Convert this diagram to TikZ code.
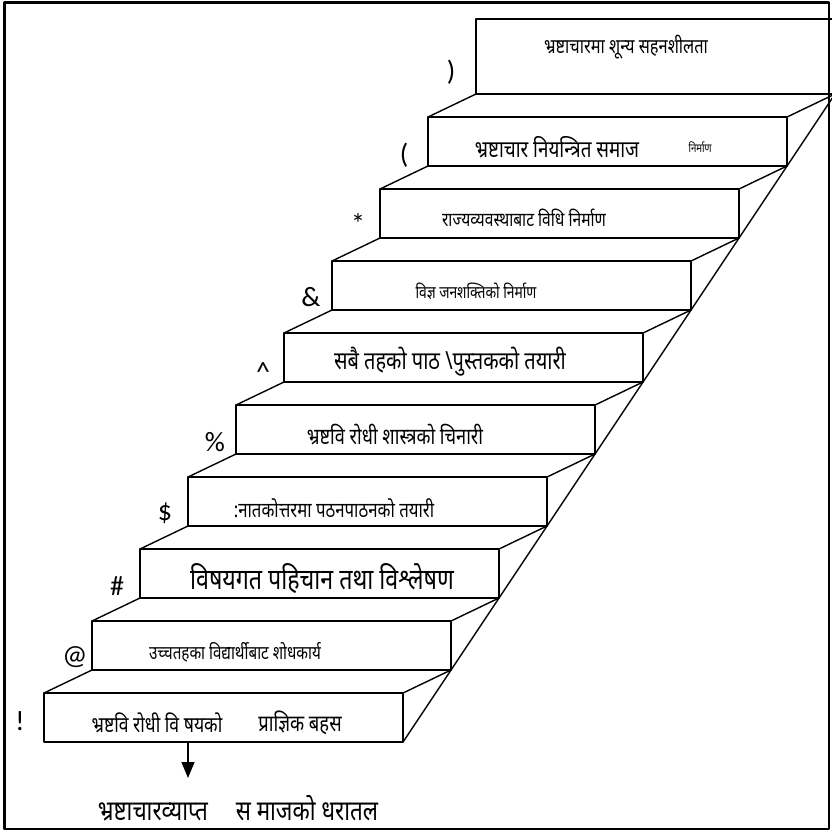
\documentclass[tikz,border=0pt]{standalone}
\usepackage{fontspec}
\newfontfamily\dev[Script=Devanagari,FakeStretch=0.8]{Noto Sans}
\newfontfamily\numfont{Carlito}
\usetikzlibrary{arrows.meta}

\newcommand\devsize[1]{\dev\fontsize{#1}{#1}\selectfont}

\tikzset{
  stepbox/.style={draw,line width=1.4pt,anchor=south west,minimum width=359pt,
    minimum height=49pt,inner sep=0pt,outer sep=0pt},
  edge/.style={line width=1.4pt},
  frame/.style={line width=2.2pt},
  steptext/.style={font=\devsize{20},inner sep=0pt},
  numlabel/.style={font=\numfont\fontsize{28}{30}\selectfont,inner sep=0pt}
}

\begin{document}
\begin{tikzpicture}[x=1pt,y=-1pt,line join=round]
\useasboundingbox (0,0) rectangle (832,831);

% the nine steps, bottom one first
\foreach \i in {0,...,8} {
	\node[stepbox] (s\i) at ({44+48*\i},{742-72*\i}) {};
	\draw[edge] (s\i.north west) -- ++(48,-23) (s\i.north east) -- ++(48,-23);
}
% top step
\node[stepbox,anchor=north west,minimum width=362pt,minimum height=75pt] (s9) at (476,19) {};
% side of the stair
\draw[edge] (s0.south east) -- ++(432,-648);

% texts on the steps
\node[steptext,font=\devsize{20.5}] (t9) at (626,47) {भ्रष्टाचारमा शून्य सहनशीलता};
\node[steptext,font=\devsize{23.5}] (t8) at (557,147) {भ्रष्टाचार नियन्त्रित समाज};
\node[steptext,font=\devsize{12}] (t8b) at (700,147) {निर्माण};
\node[steptext,font=\devsize{19.5}] (t7) at (524,218) {राज्यव्यवस्थाबाट विधि निर्माण};
\node[steptext,font=\devsize{17.3}] (t6) at (476,291) {विज्ञ जनशक्तिको निर्माण};
\node[steptext,font=\devsize{25}] (t5) at (450,362) {सबै तहको पाठ \textbackslash पुस्तकको तयारी};
\node[steptext,font=\devsize{22.7}] (t4) at (395,435) {भ्रष्टवि रोधी शास्त्रको चिनारी};
\node[steptext,font=\devsize{21}] (t3) at (334,508) {:नातकोत्तरमा पठनपाठनको तयारी};
\node[steptext,font=\devsize{29}] (t2) at (322,579) {विषयगत पहिचान तथा विश्लेषण};
\node[steptext,font=\devsize{19}] (t1) at (235,652) {उच्चतहका विद्यार्थीबाट शोधकार्य};
\node[steptext,font=\devsize{22}] (t0) at (157,723) {भ्रष्टवि रोधी वि षयको};
\node[steptext,font=\devsize{23}] (t0b) at (300,723) {प्राज्ञिक बहस};

% step numbers
\node[numlabel] (n0) at (20,721) {!};
\node[numlabel] (n1) at (75,657) {@};
\node[numlabel] (n2) at (117,586) {\#};
\node[numlabel] (n3) at (165,513) {\$};
\node[numlabel] (n4) at (215,442) {\%};
\node[numlabel] (n5) at (263,372) {\textasciicircum};
\node[numlabel] (n6) at (311,297) {\&};
\node[numlabel] (n7) at (358,224) {*};
\node[numlabel] (n8) at (404,155) {(};
\node[numlabel] (n9) at (451,72) {)};

% ground
\node[steptext,font=\devsize{28}] (base) at (238,808) {भ्रष्टाचारव्याप्त\quad स माजको धरातल};
\coordinate (a0) at (188,742);
\coordinate (a1) at (188,778);
\draw[edge,-{Triangle[length=16pt,width=13pt]}] (a0) -- (a1);

\draw[frame] (4.5,2.5) rectangle (829,829);
\end{tikzpicture}
\end{document}
